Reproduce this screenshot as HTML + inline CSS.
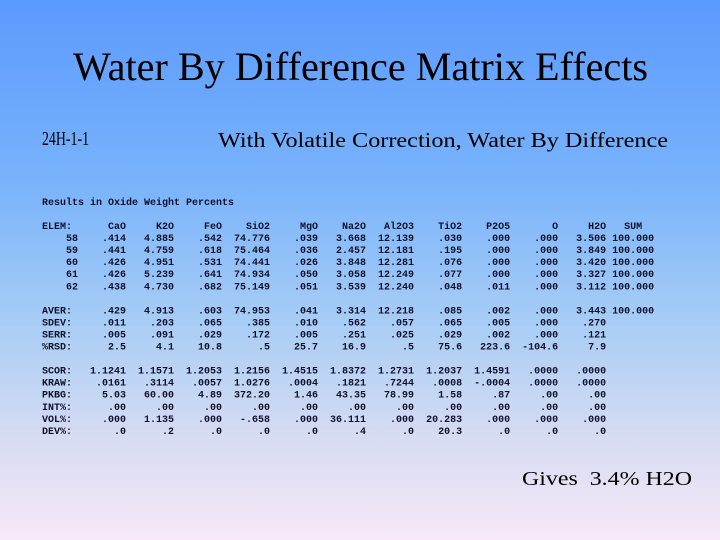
<!DOCTYPE html>
<html><head><meta charset="utf-8"><style>
html,body{margin:0;padding:0}
body{width:720px;height:540px;overflow:hidden;background:linear-gradient(to bottom,#5b9afe 0%,#7ab4fb 35%,#a8cdf5 60%,#d8dcf2 82%,#f8e8f8 100%)}
svg{position:absolute;left:0;top:0}
</style></head><body>
<svg width="720" height="540">
<text x="73" y="80" font-family="Liberation Serif, serif" font-size="40" textLength="575" lengthAdjust="spacingAndGlyphs" fill="#000">Water By Difference Matrix Effects</text>
<text x="42" y="145" font-family="Liberation Serif, serif" font-size="20" textLength="47" lengthAdjust="spacingAndGlyphs" fill="#000">24H-1-1</text>
<text x="218" y="147" font-family="Liberation Serif, serif" font-size="21" textLength="450" lengthAdjust="spacingAndGlyphs" fill="#000">With Volatile Correction, Water By Difference</text>
<text x="522" y="485" font-family="Liberation Serif, serif" font-size="20" textLength="170" lengthAdjust="spacingAndGlyphs" fill="#000" xml:space="preserve">Gives  3.4% H2O</text>
<g id="tbl" font-family="Liberation Mono, monospace" font-size="10" font-weight="bold" fill="#10102a"></g>
</svg>
<script>
const header = ["CaO","K2O","FeO","SiO2","MgO","Na2O","Al2O3","TiO2","P2O5","O","H2O"];
const rowLabels = ["ELEM:","58","59","60","61","62","","AVER:","SDEV:","SERR:","%RSD:","","SCOR:","KRAW:","PKBG:","INT%:","VOL%:","DEV%:"];
const r58 = [".414","4.885",".542","74.776",".039","3.668","12.139",".030",".000",".000","3.506","100.000"];
const r59 = [".441","4.759",".618","75.464",".036","2.457","12.181",".195",".000",".000","3.849","100.000"];
const r60 = [".426","4.951",".531","74.441",".026","3.848","12.281",".076",".000",".000","3.420","100.000"];
const r61 = [".426","5.239",".641","74.934",".050","3.058","12.249",".077",".000",".000","3.327","100.000"];
const r62 = [".438","4.730",".682","75.149",".051","3.539","12.240",".048",".011",".000","3.112","100.000"];
const aver = [".429","4.913",".603","74.953",".041","3.314","12.218",".085",".002",".000","3.443","100.000"];
const sdev = [".011",".203",".065",".385",".010",".562",".057",".065",".005",".000",".270"];
const serr = [".005",".091",".029",".172",".005",".251",".025",".029",".002",".000",".121"];
const rsd = ["2.5","4.1","10.8",".5","25.7","16.9",".5","75.6","223.6","-104.6","7.9"];
const scor = ["1.1241","1.1571","1.2053","1.2156","1.4515","1.8372","1.2731","1.2037","1.4591",".0000",".0000"];
const kraw = [".0161",".3114",".0057","1.0276",".0004",".1821",".7244",".0008","-.0004",".0000",".0000"];
const pkbg = ["5.03","60.00","4.89","372.20","1.46","43.35","78.99","1.58",".87",".00",".00"];
const intp = [".00",".00",".00",".00",".00",".00",".00",".00",".00",".00",".00"];
const volp = [".000","1.135",".000","-.658",".000","36.111",".000","20.283",".000",".000",".000"];
const devp = [".0",".2",".0",".0",".0",".4",".0","20.3",".0",".0",".0"];
const rowsData = [header.concat(["SUM  "]),r58,r59,r60,r61,r62,null,aver,sdev,serr,rsd,null,scor,kraw,pkbg,intp,volp,devp];
const g = document.getElementById('tbl');
const NS = "http://www.w3.org/2000/svg";
function addLine(str, y, name){
  const t = document.createElementNS(NS,'text');
  t.setAttribute('x', 42);
  t.setAttribute('y', y);
  t.setAttribute('xml:space','preserve');
  t.style.whiteSpace = 'pre';
  
  
  t.textContent = str;
  g.appendChild(t);
}
addLine("Results in Oxide Weight Percents", 229 - 2*12.05, 'table-caption');
rowsData.forEach((vals, i) => {
  if (!vals) return;
  const lab = rowLabels[i];
  let s = (i >= 1 && i <= 5) ? lab.padStart(6) : lab.padEnd(6);
  vals.forEach(v => { s += v.padStart(8); });
  addLine(s, 229 + i*12.05, 'table-row-' + (lab || 'blank').replace(/[^A-Za-z0-9]/g,'').toLowerCase());
});
</script>
</body></html>
